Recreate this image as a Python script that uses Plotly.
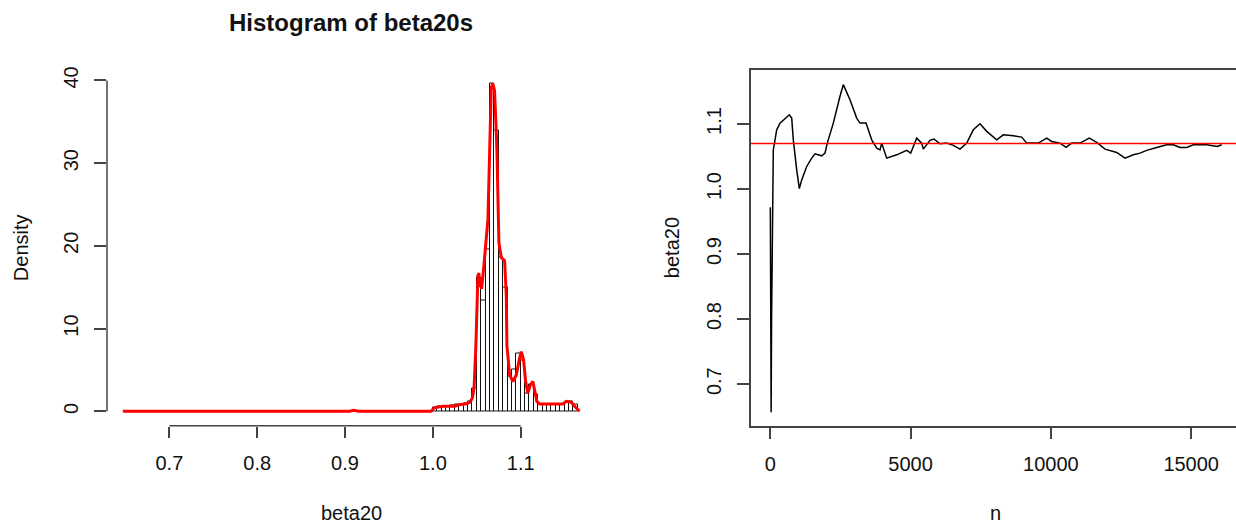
import numpy as np
import plotly.graph_objects as go

# ---------------- data: histogram of beta20s ----------------
hist_start = 1.000
bin_width = 0.005
hist_density = [0.5, 0.6, 0.6, 0.6, 0.7, 0.8, 0.8, 1.0, 1.2, 2.8,
                16.2, 13.4, 19.6, 39.6, 34.0, 18.6, 15.0, 4.2, 5.0, 7.0,
                6.2, 2.2, 3.2, 2.0, 0.8, 0.8, 0.8, 0.8, 0.8, 0.8,
                1.1, 1.2, 0.8]

# density estimate (red curve)
dens_x = [0.647, 0.905, 0.910, 0.915, 0.998, 1.001, 1.005, 1.012, 1.025, 1.030,
          1.038, 1.042, 1.045, 1.047, 1.049, 1.0505, 1.0513, 1.0524, 1.0535, 1.0545,
          1.0555, 1.058, 1.060, 1.0627, 1.0646, 1.0665, 1.0683, 1.0702, 1.0721, 1.073,
          1.0752, 1.0779, 1.0817, 1.0836, 1.0843, 1.0874, 1.0911, 1.095, 1.0987, 1.1007,
          1.1033, 1.1056, 1.1082, 1.1109, 1.1139, 1.1158, 1.1184, 1.1215, 1.148, 1.1519,
          1.1576, 1.1614, 1.167]
dens_y = [0.0, 0.0, 0.12, 0.0, 0.0, 0.4, 0.5, 0.6, 0.6, 0.8,
          0.9, 1.1, 1.6, 3.0, 8.0, 14.0, 16.4, 16.7, 15.0, 16.2,
          14.8, 17.5, 19.6, 23.2, 31.2, 39.2, 39.6, 38.8, 34.0, 31.2,
          20.4, 18.6, 18.2, 14.0, 8.0, 4.4, 3.6, 4.4, 6.4, 7.2,
          6.2, 3.6, 2.2, 3.2, 3.6, 2.6, 1.2, 0.88, 0.88, 1.2,
          1.1, 0.6, 0.0]

# ---------------- data: running estimate of beta20 ----------------
run_n = [1, 3, 5, 8, 12, 15, 20, 25, 30, 45,
         60, 80, 107, 168, 228, 346, 524, 677, 763, 820,
         941, 1034, 1119, 1297, 1476, 1593, 1832, 1949, 2031, 2245,
         2484, 2602, 2840, 3079, 3197, 3411, 3614, 3792, 3910, 3970,
         4148, 4505, 4861, 5004, 5097, 5218, 5396, 5453, 5692, 5834,
         6048, 6287, 6522, 6761, 7000, 7235, 7474, 7712, 8069, 8304,
         8661, 8960, 9138, 9552, 9851, 10029, 10325, 10539, 10742, 11038,
         11369, 11633, 11929, 12346, 12642, 12937, 13176, 13415, 13771, 14128,
         14363, 14602, 14840, 15076, 15553, 15931, 16088]
run_beta = [0.972, 0.891, 0.72, 0.88, 0.717, 0.86, 0.73, 0.84, 0.657, 0.80,
            0.89, 1.03, 1.0604, 1.0758, 1.0912, 1.1015, 1.1092, 1.1143, 1.1092, 1.0758,
            1.0296, 1.0008, 1.0142, 1.0348, 1.0476, 1.0542, 1.0512, 1.0553, 1.0707, 1.1015,
            1.1427, 1.1606, 1.1374, 1.1092, 1.1015, 1.1015, 1.0758, 1.0630, 1.0604, 1.0707,
            1.0476, 1.0527, 1.0595, 1.0553, 1.0656, 1.0784, 1.0707, 1.0615, 1.0749, 1.0769,
            1.0696, 1.0707, 1.0672, 1.0615, 1.0707, 1.0912, 1.1005, 1.0888, 1.0758, 1.0835,
            1.0820, 1.0800, 1.0707, 1.0707, 1.0784, 1.0733, 1.0707, 1.0641, 1.0707, 1.0707,
            1.0784, 1.0718, 1.0615, 1.0564, 1.0476, 1.0527, 1.0553, 1.0595, 1.0641, 1.0681,
            1.0681, 1.0641, 1.0641, 1.0681, 1.0681, 1.0656, 1.0681]
beta20_mean = 1.070

hist_xticks = [0.7, 0.8, 0.9, 1.0, 1.1]
hist_yticks = [0, 10, 20, 30, 40]
run_xticks = [0, 5000, 10000, 15000]
run_yticks = [0.7, 0.8, 0.9, 1.0, 1.1]

# ---------------- layout geometry ----------------
W, H = 1236, 529
FONT = "Liberation Sans, Arial, sans-serif"
AX = "#444444"

def px_x(p):
    return p / W

def px_y(p):
    return 1 - p / H

top_px, bot_px = 67, 425
ydom = [px_y(bot_px), px_y(top_px)]

fig = go.Figure()

centers = hist_start + bin_width * (np.arange(len(hist_density)) + 0.5)
fig.add_trace(go.Bar(x=centers, y=hist_density, width=bin_width,
                     marker=dict(color="rgba(0,0,0,0)", line=dict(color="#111111", width=1)),
                     xaxis="x", yaxis="y", showlegend=False))
fig.add_trace(go.Scatter(x=dens_x, y=dens_y, mode="lines",
                         line=dict(color="#ff0000", width=3),
                         xaxis="x", yaxis="y", showlegend=False))
fig.add_trace(go.Scatter(x=run_n, y=run_beta, mode="lines",
                         line=dict(color="#000000", width=1.5),
                         xaxis="x2", yaxis="y2", showlegend=False))

tickfont = dict(family=FONT, size=20, color="#111111")

fig.update_layout(
    width=W, height=H, margin=dict(l=0, r=0, t=0, b=0),
    paper_bgcolor="white", plot_bgcolor="white",
    bargap=0,
    xaxis=dict(domain=[px_x(107), px_x(595)], range=[0.629, 1.1846],
               tickvals=hist_xticks, ticktext=[f"{v:.1f}" for v in hist_xticks],
               ticks="outside", ticklen=11, tickwidth=1.5, tickcolor=AX,
               showline=False, showgrid=False, zeroline=False,
               tickfont=tickfont, ticklabelstandoff=8),
    yaxis=dict(domain=ydom, range=[-1.75, 41.2],
               tickvals=hist_yticks, ticktext=[str(v) for v in hist_yticks],
               ticks="outside", ticklen=12, tickwidth=1.5, tickcolor=AX,
               showline=False, showgrid=False, zeroline=False,
               tickangle=-90, tickfont=tickfont, ticklabelstandoff=8),
    xaxis2=dict(domain=[px_x(751), 1.0], range=[-688, 16597], anchor="y2",
                tickvals=run_xticks, ticktext=[str(v) for v in run_xticks],
                ticks="outside", ticklen=11, tickwidth=1.5, tickcolor=AX,
                showline=True, linecolor=AX, linewidth=1.5, mirror=True,
                showgrid=False, zeroline=False,
                tickfont=tickfont, ticklabelstandoff=8),
    yaxis2=dict(domain=ydom, range=[0.636, 1.1824], anchor="x2",
                tickvals=run_yticks, ticktext=[f"{v:.1f}" for v in run_yticks],
                ticks="outside", ticklen=12, tickwidth=1.5, tickcolor=AX,
                showline=True, linecolor=AX, linewidth=1.5,
                showgrid=False, zeroline=False,
                tickangle=-90, tickfont=tickfont, ticklabelstandoff=8),
)

# R-style detached axis lines for the histogram (span first..last tick)
fig.add_shape(type="line", xref="x", yref="paper",
              x0=hist_xticks[0], x1=hist_xticks[-1], y0=ydom[0], y1=ydom[0],
              line=dict(color=AX, width=1.5))
fig.add_shape(type="line", xref="paper", yref="y",
              x0=px_x(107), x1=px_x(107), y0=hist_yticks[0], y1=hist_yticks[-1],
              line=dict(color=AX, width=1.5))
# mean line
fig.add_shape(type="line", xref="x2 domain", yref="y2", x0=0, x1=1,
              y0=beta20_mean, y1=beta20_mean, line=dict(color="#ff0000", width=1.5))

lab = dict(family=FONT, size=20, color="#111111")
common = dict(xref="paper", yref="paper", showarrow=False, xanchor="center", yanchor="middle")
fig.add_annotation(text="<b>Histogram of beta20s</b>", x=px_x(351), y=px_y(19),
                   font=dict(family=FONT, size=24, color="#111111"), **common)
fig.add_annotation(text="beta20", x=px_x(351), y=px_y(513), font=lab, **common)
fig.add_annotation(text="Density", x=px_x(21), y=px_y(246), textangle=-90, font=lab, **common)
fig.add_annotation(text="n", x=px_x(995), y=px_y(513), font=lab, **common)
fig.add_annotation(text="beta20", x=px_x(672), y=px_y(246), textangle=-90, font=lab, **common)

fig.write_html("out.html")
